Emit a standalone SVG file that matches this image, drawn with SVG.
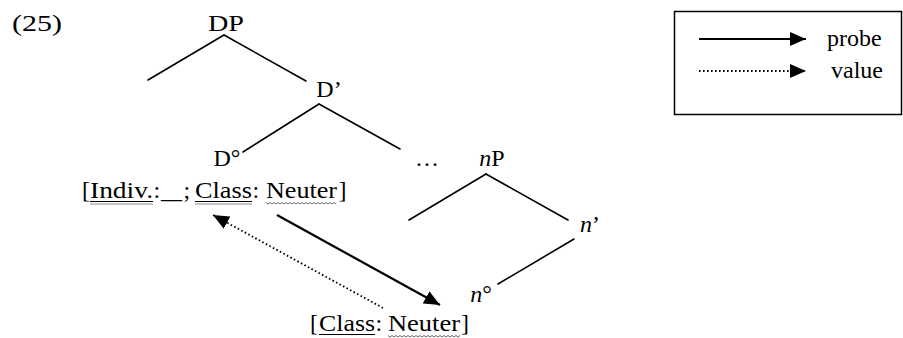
<svg xmlns="http://www.w3.org/2000/svg" width="903" height="338" viewBox="0 0 903 338">
<style>
text{font-family:"Liberation Serif","Times New Roman",serif;font-size:24px;fill:#000}
.mid{text-anchor:middle}
.it{font-style:italic}
.edge{stroke:#000;stroke-width:1.6;fill:none;stroke-linecap:round}
.ul{stroke:#000;stroke-width:1.2}
.ul2{stroke:#8a8a8a;stroke-width:1}
.wavy{stroke:#6a6a6a;stroke-width:1;fill:none}
.probe{stroke:#000;stroke-width:2.2;fill:none}
.value{stroke:#000;stroke-width:1.8;fill:none;stroke-dasharray:1.6,2.4}
</style>
<defs>
<marker id="head" markerUnits="userSpaceOnUse" markerWidth="17" markerHeight="14" refX="16" refY="7" orient="auto">
<path d="M0,0 L16,7 L0,14 z" fill="#000"/>
</marker>
</defs>
<g id="label25"><text x="12" y="31" textLength="50" lengthAdjust="spacingAndGlyphs">(25)</text></g>
<g id="DP"><text class="mid" x="226" y="31" textLength="36" lengthAdjust="spacingAndGlyphs">DP</text></g>
<g id="Dbar"><text class="mid" x="329" y="97">D’</text></g>
<g id="D0"><text class="mid" x="227" y="166">D°</text></g>
<g id="ellipsis"><text class="mid" x="427" y="166">…</text></g>
<g id="nP"><text class="mid" x="492" y="166"><tspan class="it">n</tspan>P</text></g>
<g id="nbar"><text class="mid" x="590" y="232"><tspan class="it">n</tspan>’</text></g>
<g id="n0"><text class="mid" x="481" y="302"><tspan class="it">n</tspan>°</text></g>
<g id="features-D">
<text x="82" y="198">[</text>
<text x="90" y="198" textLength="63" lengthAdjust="spacingAndGlyphs">Indiv.</text>
<text x="153.5" y="198">:</text>
<text x="161" y="198" textLength="21" lengthAdjust="spacingAndGlyphs">__</text>
<text x="183.5" y="198">;</text>
<text x="195" y="198" textLength="57" lengthAdjust="spacingAndGlyphs">Class</text>
<text x="252.5" y="198">:</text>
<text x="266" y="198" textLength="71" lengthAdjust="spacingAndGlyphs">Neuter</text>
<text x="338.5" y="198">]</text>
<line class="ul" x1="90" y1="201.5" x2="153" y2="201.5"/>
<line class="ul2" x1="90" y1="204" x2="153" y2="204"/>
<line class="ul" x1="195" y1="201.5" x2="252" y2="201.5"/>
<line class="ul2" x1="195" y1="204" x2="252" y2="204"/>
<path class="wavy" d="M266,202.5 l2,1.5 2,-1.5 2,1.5 2,-1.5 2,1.5 2,-1.5 2,1.5 2,-1.5 2,1.5 2,-1.5 2,1.5 2,-1.5 2,1.5 2,-1.5 2,1.5 2,-1.5 2,1.5 2,-1.5 2,1.5 2,-1.5 2,1.5 2,-1.5 2,1.5 2,-1.5 2,1.5 2,-1.5 2,1.5 2,-1.5 2,1.5 2,-1.5 2,1.5 2,-1.5 2,1.5 2,-1.5 2,1.5"/>
</g>
<g id="features-n">
<text x="310" y="331">[</text>
<text x="319" y="331" textLength="56" lengthAdjust="spacingAndGlyphs">Class</text>
<text x="375.5" y="331">:</text>
<text x="388" y="331" textLength="72" lengthAdjust="spacingAndGlyphs">Neuter</text>
<text x="461" y="331">]</text>
<line class="ul" x1="319" y1="334.5" x2="375" y2="334.5"/>
<path class="wavy" d="M388,335.5 l2,1.5 2,-1.5 2,1.5 2,-1.5 2,1.5 2,-1.5 2,1.5 2,-1.5 2,1.5 2,-1.5 2,1.5 2,-1.5 2,1.5 2,-1.5 2,1.5 2,-1.5 2,1.5 2,-1.5 2,1.5 2,-1.5 2,1.5 2,-1.5 2,1.5 2,-1.5 2,1.5 2,-1.5 2,1.5 2,-1.5 2,1.5 2,-1.5 2,1.5 2,-1.5 2,1.5 2,-1.5 2,1.5 2,-1.5"/>
</g>
<g id="connectors">
<line class="edge" x1="224" y1="35" x2="148" y2="80"/>
<line class="edge" x1="224" y1="35" x2="306" y2="81"/>
<line class="edge" x1="319" y1="104" x2="243" y2="152"/>
<line class="edge" x1="319" y1="104" x2="400" y2="149"/>
<line class="edge" x1="486" y1="174" x2="409" y2="220"/>
<line class="edge" x1="486" y1="174" x2="568" y2="220"/>
<line class="edge" x1="574" y1="239" x2="498" y2="284"/>
<line class="probe" x1="277" y1="215" x2="440" y2="305" marker-end="url(#head)"/>
<line class="value" x1="383" y1="308" x2="213" y2="215" marker-end="url(#head)"/>
</g>
<g id="legend">
<rect x="674.5" y="11.5" width="227" height="103" fill="none" stroke="#000" stroke-width="1.5"/>
<line class="probe" x1="699" y1="39" x2="806" y2="39" marker-end="url(#head)"/>
<line class="value" x1="699" y1="71" x2="806" y2="71" marker-end="url(#head)"/>
<text x="827" y="46">probe</text>
<text x="831" y="78">value</text>
</g>
</svg>
